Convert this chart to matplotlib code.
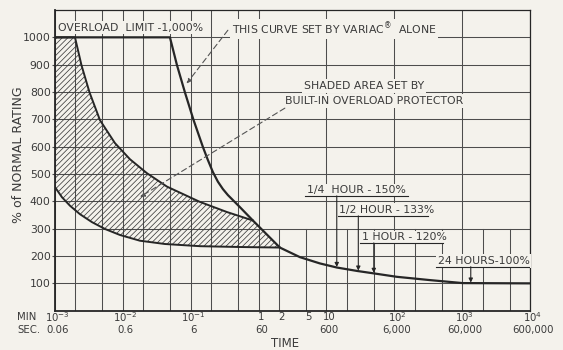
import numpy as np
import matplotlib.pyplot as plt
from matplotlib.ticker import NullLocator

paper = '#f4f2ec'
ink = '#262626'
grid_ink = '#4d4d4d'
txt_ink = '#3a3a3a'

# time in minutes, load in % of normal rating
variac_t = [0.001, 0.0494, 0.0626, 0.0821, 0.1096, 0.1512, 0.1792, 0.2123, 0.2515, 0.2979,
            0.353, 0.5303, 0.8241, 2.059, 4.058, 8.0, 14.2, 29.0, 48.3, 108.8, 333, 1020, 10000]
variac_v = [1000, 1000, 899, 799, 699, 599, 551, 507, 472, 445,
            423, 379, 330, 231, 196, 173, 158, 145, 137, 124, 112, 101, 100]

prot_upper_t = [0.001, 0.00197, 0.002456, 0.003222, 0.0046, 0.007651, 0.01273, 0.02264,
                0.04461, 0.1366, 0.3413, 0.8241]
prot_upper_v = [1000, 1000, 898, 799, 697, 613, 554, 503, 454, 398, 361, 330]

prot_lower_t = [0.001, 0.001268, 0.001663, 0.002334, 0.003506, 0.005448, 0.009064, 0.01786,
                0.04169, 0.1366, 0.5303, 2.059]
prot_lower_v = [452, 415, 384, 353, 324, 299, 277, 256, 244, 236, 233, 231]

y_ticks = [100, 200, 300, 400, 500, 600, 700, 800, 900, 1000]
min_pos = [1e-3, 1e-2, 1e-1, 1, 2, 5, 10, 100, 1000, 10000]
min_labels = ['10$^{-3}$', '10$^{-2}$', '10$^{-1}$', '1', '2', '5', '10', '10$^{2}$', '10$^{3}$', '10$^{4}$']
sec_pos = [1e-3, 1e-2, 1e-1, 1, 10, 100, 1000, 10000]
sec_labels = ['0.06', '0.6', '6', '60', '600', '6,000', '60,000', '600,000']

decades = [1e-3, 1e-2, 1e-1, 1, 10, 100, 1000, 10000]
minors = [2e-3, 5e-3, 2e-2, 5e-2, 0.2, 0.5, 2, 5, 20, 50, 200, 500, 2000, 5000]

# callouts: label, text position (min, %), underline end, arrow time
callouts = [
    ('1/4  HOUR - 150%', 5.1, 441, 158, 14.2),
    ('1/2 HOUR - 133%', 15.2, 368, 311, 29.5),
    ('1 HOUR - 120%', 33.0, 269, 518, 49.9),
    ('24 HOURS-100%', 435, 182, 10000, 1340),
]

plt.rcParams['hatch.linewidth'] = 0.55

fig = plt.figure(figsize=(5.63, 3.5), dpi=100, facecolor=paper)
ax = fig.add_axes([55 / 563, 39.3 / 350, 475 / 563, 300.7 / 350])
ax.set_facecolor(paper)
ax.set_xscale('log')
ax.set_xlim(1e-3, 1e4)
ax.set_ylim(0, 1100)

# grid
for t in decades:
    ax.plot([t, t], [0, 1100], color=grid_ink, lw=0.75, zorder=1)
for t in minors:
    top = 1100 if t < 1 else 300
    ax.plot([t, t], [0, top], color=grid_ink, lw=0.75, zorder=1)
for v in y_ticks:
    ax.axhline(v, color=grid_ink, lw=0.75, zorder=1)

# shaded area (protector)
seg = [(t, v) for t, v in zip(variac_t, variac_v) if prot_upper_t[-1] < t < prot_lower_t[-1]]
shade_t = prot_upper_t + [s[0] for s in seg] + prot_lower_t[::-1]
shade_v = prot_upper_v + [s[1] for s in seg] + prot_lower_v[::-1]
ax.fill(shade_t, shade_v, facecolor='none', edgecolor='#3e3e3e', hatch='//////', linewidth=0, zorder=2)

ax.plot(prot_upper_t, prot_upper_v, color=ink, lw=1.4, zorder=3)
ax.plot(prot_lower_t, prot_lower_v, color=ink, lw=1.4, zorder=3)
ax.plot(variac_t, variac_v, color=ink, lw=1.6, zorder=3)

# frame
for side in ['left', 'bottom']:
    ax.spines[side].set_linewidth(1.3)
for side in ['top', 'right']:
    ax.spines[side].set_linewidth(0.9)
for s in ax.spines.values():
    s.set_color(ink)

ax.set_yticks(y_ticks)
ax.set_yticklabels([str(v) for v in y_ticks])
ax.xaxis.set_major_locator(NullLocator())
ax.xaxis.set_minor_locator(NullLocator())
ax.tick_params(axis='y', length=2.5, width=0.8, color=grid_ink, labelsize=7.8,
               labelcolor=txt_ink, pad=0.6)

box = dict(facecolor=paper, edgecolor='none', pad=1.2)
fs = 7.8

ax.text(0.00112, 1035, 'OVERLOAD  LIMIT -1,000%', fontsize=fs, color=txt_ink,
        va='center', ha='left', bbox=box, zorder=4)
ax.text(0.40, 1030, 'THIS CURVE SET BY VARIAC$^{®}$  ALONE', fontsize=fs, color=txt_ink,
        va='center', ha='left', bbox=box, zorder=4)
ax.text(36, 822, 'SHADED AREA SET BY', fontsize=fs, color=txt_ink,
        va='center', ha='center', bbox=box, zorder=4)
ax.text(50, 767, 'BUILT-IN OVERLOAD PROTECTOR', fontsize=fs, color=txt_ink,
        va='center', ha='center', bbox=box, zorder=4)

dash = (0, (5, 3))
ax.annotate('', xy=(0.087, 831), xytext=(0.353, 1026),
            arrowprops=dict(arrowstyle='-|>', color='#555555', lw=0.8, ls=dash,
                            mutation_scale=7, shrinkA=0, shrinkB=0), zorder=5)
ax.annotate('', xy=(0.0179, 416), xytext=(2.44, 741),
            arrowprops=dict(arrowstyle='-|>', color='#555555', lw=0.8, ls=dash,
                            mutation_scale=7, shrinkA=0, shrinkB=0), zorder=5)

log_t = np.log10(variac_t)
for label, tx, ty, t_end, t_arrow in callouts:
    ax.text(tx, ty, label, fontsize=fs, color=txt_ink, va='center', ha='left',
            bbox=box, zorder=4)
    uy = ty - 21
    ax.plot([tx * 0.96, t_end], [uy, uy], color=ink, lw=0.8, zorder=4)
    tip = np.interp(np.log10(t_arrow), log_t, variac_v)
    ax.annotate('', xy=(t_arrow, tip + 2), xytext=(t_arrow, uy),
                arrowprops=dict(arrowstyle='-|>', color=ink, lw=0.8,
                                mutation_scale=6, shrinkA=0, shrinkB=0), zorder=5)

# time axis labels
xt = ax.get_xaxis_transform()
for t, lab in zip(min_pos, min_labels):
    ax.text(t * 1.1, -0.02, lab, transform=xt, fontsize=7.3, color=txt_ink, ha='center', va='center')
for t, lab in zip(sec_pos, sec_labels):
    ax.text(t * 1.1, -0.064, lab, transform=xt, fontsize=7.3, color=txt_ink, ha='center', va='center')
ax.text(-0.08, -0.02, 'MIN', transform=ax.transAxes, fontsize=7.3, color=txt_ink, ha='left', va='center')
ax.text(-0.08, -0.064, 'SEC.', transform=ax.transAxes, fontsize=7.3, color=txt_ink, ha='left', va='center')
ax.text(0.485, -0.108, 'TIME', transform=ax.transAxes, fontsize=8.5, color=txt_ink, ha='center', va='center')

fig.text(19 / 563, 1 - 155 / 350, '% of NORMAL RATING', rotation=90, fontsize=9,
         color=txt_ink, ha='center', va='center')

fig.savefig('out.png', dpi=100, facecolor=paper)
